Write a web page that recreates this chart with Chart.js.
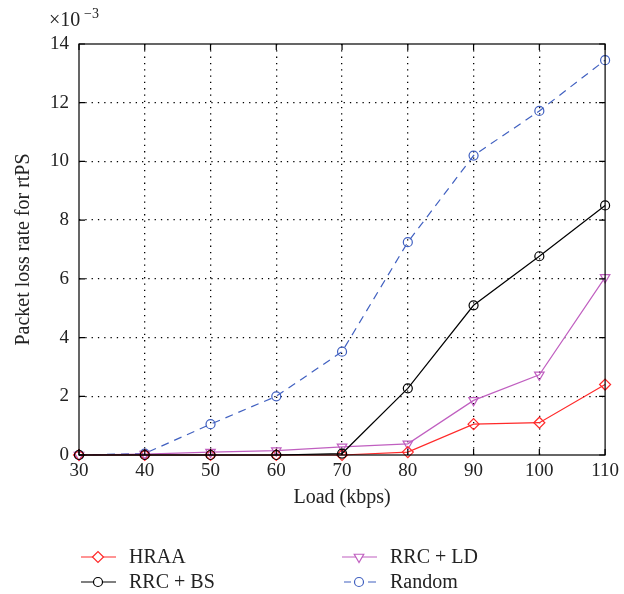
<!DOCTYPE html>
<html lang="en">
<head>
    <meta charset="UTF-8">
    <title>Packet loss rate for rtPS</title>
    <script src="https://cdn.jsdelivr.net/npm/chart.js"></script>
    <style>
        html, body { margin: 0; padding: 0; background: #fff; }
        #wrap { width: 624px; height: 594px; }
    </style>
</head>
<body>
<div id="wrap"><canvas id="lossChart"></canvas></div>
<script>
    // load in kbps
    const loads = [30, 40, 50, 60, 70, 80, 90, 100, 110];
    // packet loss rate, in units of 1e-3
    const hraa = [0, 0, 0, 0, 0, 0.1, 1.05, 1.1, 2.4];
    const rrcBs = [0, 0, 0, 0, 0.05, 2.27, 5.1, 6.77, 8.5];
    const rrcLd = [0, 0.03, 0.1, 0.15, 0.28, 0.38, 1.86, 2.73, 6.05];
    const random = [0, 0.05, 1.05, 2.0, 3.52, 7.25, 10.2, 11.72, 13.45];
    const yTicks = [0, 2, 4, 6, 8, 10, 12, 14];
    const xTicks = [30, 40, 50, 60, 70, 80, 90, 100, 110];

    const FONT = "'Liberation Serif', 'DejaVu Serif', serif";

    const toPoints = vals => loads.map((x, i) => ({x: x, y: vals[i]}));

    // frame, inward ticks, exponent label and two-column legend
    const decor = {
        id: 'decor',
        afterDraw(chart) {
            const ctx = chart.ctx;
            const a = chart.chartArea;
            const xs = chart.scales.x, ys = chart.scales.y;
            ctx.save();
            ctx.strokeStyle = '#000';
            ctx.lineWidth = 1.2;
            ctx.setLineDash([]);
            ctx.strokeRect(a.left, a.top, a.right - a.left, a.bottom - a.top);
            const t = 6;
            ctx.beginPath();
            xTicks.forEach(v => {
                const px = xs.getPixelForValue(v);
                ctx.moveTo(px, a.bottom); ctx.lineTo(px, a.bottom - t);
                ctx.moveTo(px, a.top); ctx.lineTo(px, a.top + t);
            });
            yTicks.forEach(v => {
                const py = ys.getPixelForValue(v);
                ctx.moveTo(a.left, py); ctx.lineTo(a.left + t, py);
                ctx.moveTo(a.right, py); ctx.lineTo(a.right - t, py);
            });
            ctx.stroke();

            // x10^-3
            ctx.fillStyle = '#222';
            ctx.textBaseline = 'alphabetic';
            ctx.textAlign = 'left';
            ctx.font = '20px ' + FONT;
            ctx.fillText('\u00d710', 49, 26);
            ctx.font = '14px ' + FONT;
            ctx.fillText('\u22123', 84, 18);

            // legend, two columns
            const slots = [[81, 557], [81, 582], [342, 557], [342, 582]];
            chart.data.datasets.forEach((ds, k) => {
                const [lx, ly] = slots[k];
                ctx.strokeStyle = ds.borderColor;
                ctx.lineWidth = 1.2;
                ctx.beginPath();
                if (ds.borderDash) {
                    ctx.moveTo(lx + 2, ly); ctx.lineTo(lx + 9, ly);
                    ctx.moveTo(lx + 26, ly); ctx.lineTo(lx + 34, ly);
                } else {
                    ctx.moveTo(lx, ly); ctx.lineTo(lx + 35, ly);
                }
                ctx.stroke();
                ctx.fillStyle = '#fff';
                Chart.helpers.drawPoint(ctx, {
                    pointStyle: ds.pointStyle,
                    radius: ds.pointRadius,
                    rotation: ds.pointRotation || 0,
                    borderWidth: ds.pointBorderWidth
                }, lx + 17, ly);
                ctx.fillStyle = '#222';
                ctx.font = '20px ' + FONT;
                ctx.textAlign = 'left';
                ctx.textBaseline = 'middle';
                ctx.fillText(ds.label, lx + 48, ly + 1);
            });
            ctx.restore();
        }
    };

    const series = [
        {label: 'HRAA', vals: hraa, color: '#ff2a2a', style: 'rectRot', rot: 0, r: 5.5},
        {label: 'RRC + BS', vals: rrcBs, color: '#000000', style: 'circle', rot: 0, r: 4.5},
        {label: 'RRC + LD', vals: rrcLd, color: '#c05fc0', style: 'triangle', rot: 180, r: 5.5},
        {label: 'Random', vals: random, color: '#4060c0', style: 'circle', rot: 0, r: 4.5, dash: [8, 6]}
    ];

    const datasets = series.map((s, i) => ({
        label: s.label,
        data: toPoints(s.vals),
        borderColor: s.color,
        backgroundColor: 'rgba(0,0,0,0)',
        pointBackgroundColor: 'rgba(0,0,0,0)',
        pointBorderColor: s.color,
        pointStyle: s.style,
        pointRotation: s.rot,
        pointRadius: s.r,
        pointBorderWidth: 1.2,
        borderWidth: 1.2,
        borderDash: s.dash,
        tension: 0,
        clip: false,
        order: [2, 1, 3, 4][i]
    }));

    const tickFont = {family: FONT, size: 19};
    const titleFont = {family: FONT, size: 20};

    const chart = new Chart(document.getElementById('lossChart'), {
        type: 'line',
        data: {datasets: datasets},
        options: {
            responsive: true,
            maintainAspectRatio: false,
            animation: false,
            layout: {padding: {left: 8, right: 17, top: 44, bottom: 80}},
            plugins: {
                legend: {display: false},
                tooltip: {enabled: false}
            },
            scales: {
                x: {
                    type: 'linear',
                    min: 30, max: 110,
                    afterBuildTicks: s => { s.ticks = xTicks.map(v => ({value: v})); },
                    afterFit: s => { s.height = 594 - 455 - 80; },
                    grid: {lineWidth: 1.3, drawTicks: false,
                        color: c => (c.tick.value === 30 || c.tick.value === 110) ? 'rgba(0,0,0,0)' : '#000'},
                    border: {display: false, dash: [1.3, 5]},
                    ticks: {font: tickFont, color: '#222', padding: 5, maxRotation: 0},
                    title: {display: true, text: 'Load (kbps)', font: titleFont, color: '#222', padding: {top: 5}}
                },
                y: {
                    min: 0, max: 14,
                    afterBuildTicks: s => { s.ticks = yTicks.map(v => ({value: v})); },
                    afterFit: s => { s.width = 79 - 8; },
                    grid: {lineWidth: 1.3, drawTicks: false,
                        color: c => (c.tick.value === 0 || c.tick.value === 14) ? 'rgba(0,0,0,0)' : '#000'},
                    border: {display: false, dash: [1.3, 5]},
                    ticks: {font: tickFont, color: '#222', padding: 10},
                    title: {display: true, text: 'Packet loss rate for rtPS', font: titleFont, color: '#222', padding: {bottom: 0}}
                }
            }
        },
        plugins: [decor]
    });
</script>
</body>
</html>
